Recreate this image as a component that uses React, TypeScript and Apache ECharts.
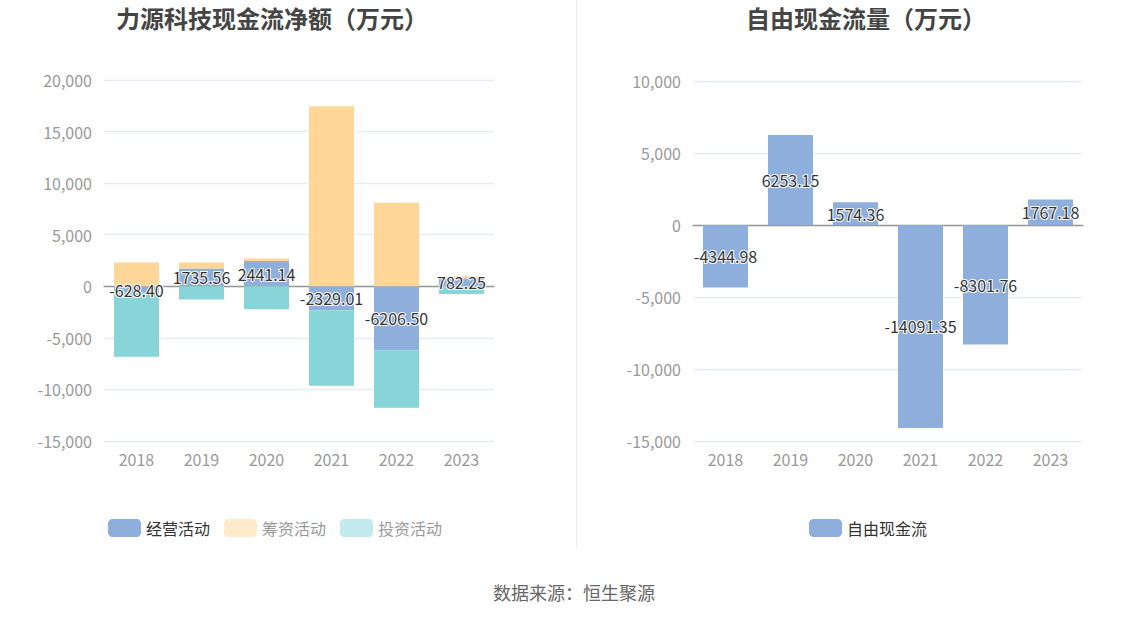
import React, { useEffect, useRef } from "react";
import * as echarts from "echarts";

const years = ["2018", "2019", "2020", "2021", "2022", "2023"];
const operating = [-628.4, 1735.56, 2441.14, -2329.01, -6206.5, 782.25];
const financing = [2300, 560, 250, 17460, 8090, 200];
const investing = [-6210, -1280, -2220, -7320, -5580, -740];
const freeCashFlow = [-4344.98, 6253.15, 1574.36, -14091.35, -8301.76, 1767.18];

const leftTitle = "力源科技现金流净额（万元）";
const rightTitle = "自由现金流量（万元）";
const sourceText = "数据来源：恒生聚源";

const FONT = "'Noto Sans CJK SC', 'Noto Sans', sans-serif";
const BLUE = "#8eaedb";
const ORANGE = "#fed798";
const TEAL = "#87d5d9";

export default function App() {
  const ref = useRef<HTMLDivElement>(null);
  useEffect(() => {
    if (!ref.current) return;
    const chart = echarts.init(ref.current, null, { renderer: "svg" });
    const labelStyle = {
      show: true,
      position: "inside",
      color: "#333",
      fontSize: 16,
      fontFamily: FONT,
      textBorderColor: "#fff",
      textBorderWidth: 2,
      formatter: (p: any) => Number(p.value).toFixed(2),
    };
    const xAxisBase = {
      type: "category",
      data: years,
      axisLine: { lineStyle: { color: "#999", width: 1.3 } },
      axisTick: { alignWithLabel: true, length: 6, lineStyle: { color: "#999" } },
      axisLabel: { fontSize: 16, color: "#999", margin: 10, fontFamily: FONT },
    };
    const yAxisBase = {
      type: "value",
      interval: 5000,
      min: -15000,
      axisLine: { show: false },
      axisTick: { show: false },
      axisLabel: { fontSize: 16, color: "#999", margin: 12, fontFamily: FONT },
      splitLine: { lineStyle: { color: "#e8ebf3", width: 1.3 } },
    };
    chart.setOption({
      animation: false,
      textStyle: { fontFamily: FONT },
      grid: [
        { left: 104, right: 654, top: 80, bottom: 178 },
        { left: 693, right: 65, top: 81, bottom: 178 },
      ],
      xAxis: [
        { ...xAxisBase, gridIndex: 0 },
        { ...xAxisBase, gridIndex: 1 },
      ],
      yAxis: [
        { ...yAxisBase, gridIndex: 0, max: 20000 },
        { ...yAxisBase, gridIndex: 1, max: 10000 },
      ],
      legend: [
        {
          left: 103,
          top: 514,
          itemWidth: 33,
          itemHeight: 18,
          itemGap: 14,
          icon: "roundRect",
          textStyle: { fontSize: 16, fontFamily: FONT },
          data: [
            { name: "经营活动", itemStyle: { color: BLUE }, textStyle: { color: "#333" } },
            { name: "筹资活动", itemStyle: { color: "#feebcc" }, textStyle: { color: "#999" } },
            { name: "投资活动", itemStyle: { color: "#c3eaec" }, textStyle: { color: "#999" } },
          ],
        },
        {
          left: 804,
          top: 514,
          itemWidth: 33,
          itemHeight: 18,
          icon: "roundRect",
          textStyle: { fontSize: 16, color: "#333", fontFamily: FONT },
          data: [{ name: "自由现金流", itemStyle: { color: BLUE } }],
        },
      ],
      series: [
        {
          name: "经营活动",
          type: "bar",
          stack: "left",
          xAxisIndex: 0,
          yAxisIndex: 0,
          barWidth: 45,
          data: operating,
          itemStyle: { color: BLUE },
          label: labelStyle,
        },
        {
          name: "筹资活动",
          type: "bar",
          stack: "left",
          xAxisIndex: 0,
          yAxisIndex: 0,
          barWidth: 45,
          data: financing,
          itemStyle: { color: ORANGE },
        },
        {
          name: "投资活动",
          type: "bar",
          stack: "left",
          xAxisIndex: 0,
          yAxisIndex: 0,
          barWidth: 45,
          data: investing,
          itemStyle: { color: TEAL },
        },
        {
          name: "自由现金流",
          type: "bar",
          xAxisIndex: 1,
          yAxisIndex: 1,
          barWidth: 45,
          data: freeCashFlow,
          itemStyle: { color: BLUE },
          label: labelStyle,
        },
      ],
      graphic: [
        {
          type: "line",
          shape: { x1: 576.5, y1: 0, x2: 576.5, y2: 548 },
          style: { stroke: "#eeeeee", lineWidth: 1 },
        },
        {
          type: "text",
          x: 272,
          y: 17,
          style: {
            text: leftTitle,
            fill: "#444",
            fontSize: 24,
            fontWeight: "bold",
            fontFamily: FONT,
            align: "center",
            verticalAlign: "middle",
          },
        },
        {
          type: "text",
          x: 866,
          y: 17,
          style: {
            text: rightTitle,
            fill: "#444",
            fontSize: 24,
            fontWeight: "bold",
            fontFamily: FONT,
            align: "center",
            verticalAlign: "middle",
          },
        },
        {
          type: "text",
          x: 574,
          y: 592,
          style: {
            text: sourceText,
            fill: "#666",
            fontSize: 18,
            fontFamily: FONT,
            align: "center",
            verticalAlign: "middle",
          },
        },
      ],
    });
    return () => chart.dispose();
  }, []);
  return (
    <div
      ref={ref}
      style={{ position: "fixed", left: 0, top: 0, width: 1148, height: 619, background: "#fff" }}
    />
  );
}
